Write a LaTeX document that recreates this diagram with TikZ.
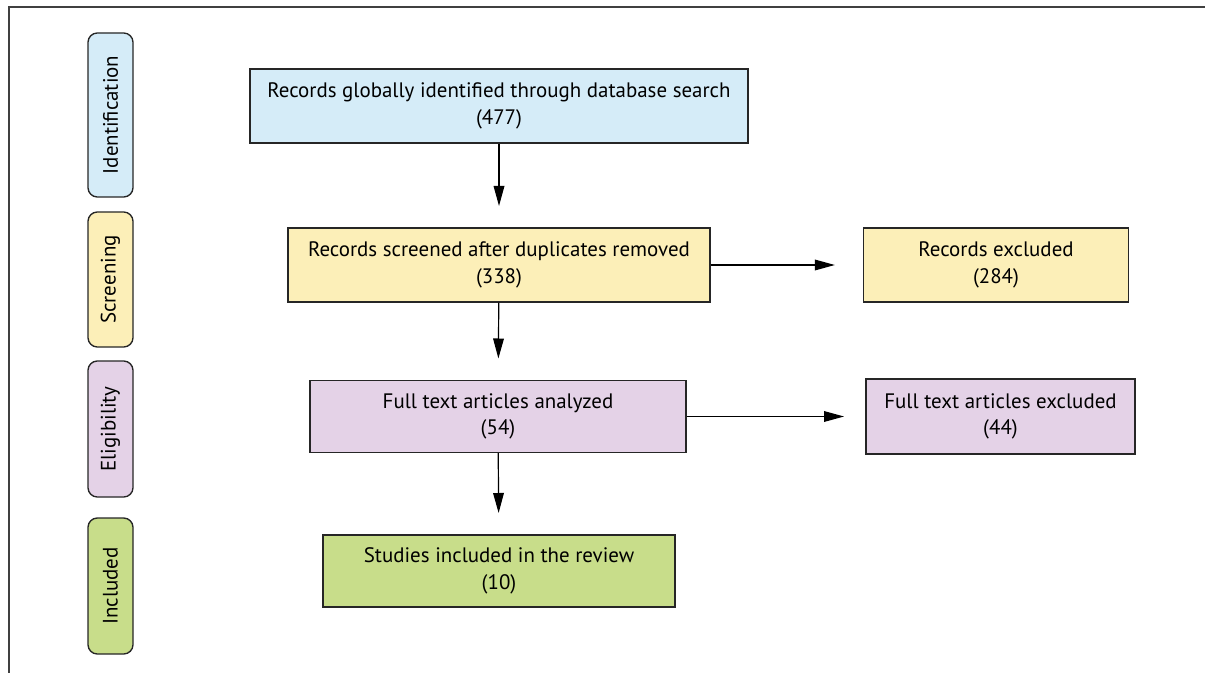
\documentclass[tikz,border=0pt]{standalone}
\usepackage{fontspec}
\setmainfont{PT Sans}
\usetikzlibrary{arrows.meta}
\definecolor{identblue}{HTML}{D5ECF8}
\definecolor{screenyellow}{HTML}{FCEFB8}
\definecolor{eligpurple}{HTML}{E4D2E7}
\definecolor{inclgreen}{HTML}{C8DD8A}
\tikzset{
  flowbox/.style={draw=black!85, line width=1pt, align=center, inner sep=0pt,
    font=\fontsize{15.7}{20}\selectfont},
  stagebox/.style={draw=black!85, line width=1pt, rounded corners=7pt, rotate=90,
    minimum height=33.75pt, inner sep=0pt, font=\fontsize{15.7}{18}\selectfont},
  flowarrow/.style={-{Triangle[length=15pt,width=8pt]}, line width=0.9pt, shorten >=16pt}
}
\begin{document}
\begin{tikzpicture}[x=0.75pt,y=0.75pt,yscale=-1,xscale=1]
\useasboundingbox (0,0) rectangle (1205,673);

%Frame
\draw [black!75, line width=1.5pt] (8.5,673) -- (8.5,7.5) -- (1205,7.5) ;

%Stage labels
\node [stagebox, fill=identblue, minimum width=123pt] (ident) at (110.5,115) {Identification};
\node [stagebox, fill=screenyellow, minimum width=101.25pt] (screen) at (110.5,279.5) {Screening};
\node [stagebox, fill=eligpurple, minimum width=102pt] (elig) at (110.5,429) {Eligibility};
\node [stagebox, fill=inclgreen, minimum width=102pt] (incl) at (110.5,586) {Included};

%Main column
\node [flowbox, fill=identblue, minimum width=373.5pt, minimum height=55.5pt] (records) at (499,106)
  {Records globally identified through database search\\(477)};
\node [flowbox, fill=screenyellow, minimum width=316.5pt, minimum height=55.5pt] (screened) at (499,265)
  {Records screened after duplicates removed\\(338)};
\node [flowbox, fill=eligpurple, minimum width=282pt, minimum height=54pt] (fulltext) at (498,416.5)
  {Full text articles analyzed\\(54)};
\node [flowbox, fill=inclgreen, minimum width=264pt, minimum height=54pt] (studies) at (499,571)
  {Studies included in the review\\(10)};

%Excluded column
\node [flowbox, fill=screenyellow, minimum width=198.75pt, minimum height=55.5pt] (recexcl) at (996,265)
  {Records excluded\\(284)};
\node [flowbox, fill=eligpurple, minimum width=201.75pt, minimum height=56.25pt] (ftexcl) at (1000.5,416.5)
  {Full text articles excluded\\(44)};

%Arrows
\draw [flowarrow] (records) -- (screened);
\draw [flowarrow] (screened) -- (fulltext);
\draw [flowarrow] (fulltext) -- (studies);
\draw [flowarrow, shorten >=21pt] (screened) -- (recexcl);
\draw [flowarrow] (fulltext) -- (ftexcl);

\end{tikzpicture}
\end{document}
